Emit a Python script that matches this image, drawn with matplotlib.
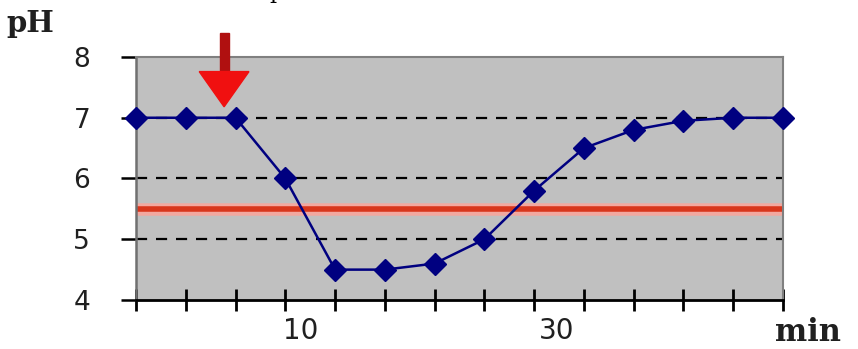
import matplotlib
matplotlib.use("Agg")
import matplotlib.pyplot as plt
from matplotlib.patches import Polygon, Rectangle

# data
x_index = list(range(14))
ph_values = [7.0, 7.0, 7.0, 6.0, 4.5, 4.5, 4.6, 5.0, 5.8, 6.5, 6.8, 6.95, 7.0, 7.0]
threshold = 5.5
y_ticks = [4, 5, 6, 7, 8]
x_label_pos = [3.3, 8.45]
x_labels = ["10", "30"]

fig = plt.figure(figsize=(8.58, 3.49), dpi=100)
ax = fig.add_axes([136/858, 1-300/349, (783-136)/858, (300-57)/349])
ax.set_facecolor("#c0c0c0")
ax.set_xlim(0, 13)
ax.set_ylim(4, 8)

for y in [5, 6, 7]:
    ax.axhline(y, color="black", lw=1.6, ls=(0, (5, 4)), zorder=1)

ax.axhline(threshold, color="#f2a8a0", lw=9, zorder=2)
ax.axhline(threshold, color="#d8361c", lw=4, zorder=2)

ax.plot(x_index, ph_values, color="#000080", lw=1.8, marker="D", ms=11,
        mfc="#000080", mec="#000080", zorder=4, clip_on=False)

# spines
for s in ["top", "right"]:
    ax.spines[s].set_color("#808080")
    ax.spines[s].set_linewidth(1.5)
ax.spines["left"].set_color("#707070")
ax.spines["left"].set_linewidth(1.8)
ax.spines["bottom"].set_color("black")
ax.spines["bottom"].set_linewidth(2)

ax.set_yticks(y_ticks)
ax.set_yticklabels([str(v) for v in y_ticks], family="DejaVu Sans",
                   fontsize=19, color="#202020")
ax.tick_params(axis="y", direction="out", length=11, width=1.8, pad=22, color="black")

ax.set_xticks(x_index, minor=True)
ax.tick_params(axis="x", which="minor", direction="inout", length=16, width=2, color="black")
ax.set_xticks(x_label_pos)
ax.set_xticklabels(x_labels, family="DejaVu Sans", fontsize=20, color="#202020")
ax.tick_params(axis="x", which="major", length=0, pad=12)

# red arrow
ax_x = 1.77
shaft = Rectangle((ax_x - 0.09, 7.72), 0.18, 0.68, color="#b01010", clip_on=False, zorder=5)
head = Polygon([[ax_x - 0.5, 7.76], [ax_x + 0.5, 7.76], [ax_x, 7.18]], closed=True,
               color="#f01010", clip_on=False, zorder=6)
ax.add_patch(shaft)
ax.add_patch(head)

fig.text(6/858, 1-32/349, "pH", family="DejaVu Serif", fontsize=21, fontweight="bold",
         color="#202020", va="baseline", ha="left")
fig.text(808/858, 1-341/349, "min", family="DejaVu Serif", fontsize=22, fontweight="bold",
         color="#202020", va="baseline", ha="center")
fig.text(276/858, 1 + 2/349, "p", family="DejaVu Serif", fontsize=16, color="black",
         va="baseline", ha="center")

fig.savefig("out.png", dpi=100)
